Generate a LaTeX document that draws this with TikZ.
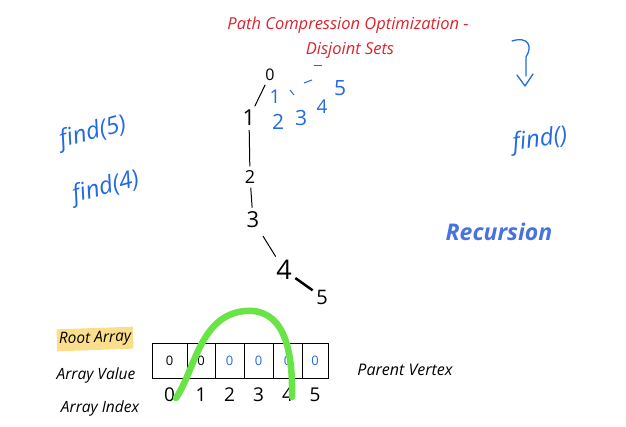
\documentclass[tikz,border=0pt]{standalone}
\usepackage{fontspec}
\setmainfont{Open Sans}
\usetikzlibrary{arrows.meta,positioning,calc}
\definecolor{inkred}{RGB}{220,35,45}
\definecolor{inkblue}{RGB}{35,105,225}
\definecolor{recblue}{RGB}{70,115,225}
\definecolor{hlgreen}{RGB}{105,228,70}
\definecolor{hlyellow}{RGB}{250,222,140}

\begin{document}
\begin{tikzpicture}[x=1pt,y=-1pt,
  title/.style={text=inkred,font=\itshape\fontsize{16.5}{19}\selectfont,inner sep=1pt},
  tag/.style={font=\itshape\fontsize{15.5}{17}\selectfont,inner sep=2pt},
  note/.style={text=inkblue,font=\itshape\fontsize{24}{26}\selectfont,inner sep=1pt},
  digit/.style={font=\fontsize{#1}{#1}\selectfont,inner sep=1pt},
  bdigit/.style={digit=#1,text=inkblue},
  treeline/.style={line width=1pt,shorten >=3pt,shorten <=3pt},
  cell/.style={draw,line width=0.8pt,minimum height=35pt,inner sep=0pt,font=\fontsize{13}{13}\selectfont}]
\useasboundingbox (0,0) rectangle (626,427);

% title
\node[title] (t1) at (348,25) {Path Compression Optimization -};
\node[title] (t2) at (350,50) {Disjoint Sets};

% the tree before compression
\node[digit=16] (v0) at (270,75) {0};
\node[digit=22] (v1) at (249,118) {1};
\node[digit=18] (v2) at (250,177) {2};
\node[digit=22] (v3) at (253,220) {3};
\node[digit=27] (v4) at (284,270) {4};
\node[digit=20] (v5) at (322,297) {5};
\draw[treeline] (v0) -- (v1);
\draw[treeline] (v1) -- (v2);
\draw[treeline] (v2) -- (v3);
\draw[treeline,shorten <=8pt] (v3) -- (v4);
\draw[treeline,line width=2.5pt] (v4) -- (v5);

% after compression, all point at 0
\node[bdigit=19] (b1) at (275,97) {1};
\node[bdigit=21] (b2) at (278,122) {2};
\node[bdigit=21] (b3) at (301,118) {3};
\node[bdigit=19] (b4) at (322,107) {4};
\node[bdigit=21] (b5) at (340,88) {5};
\draw[inkblue,line width=1pt] (290,90) -- (294,95);
\draw[inkblue,line width=1pt] (304,83) -- (312,80);
\draw[inkblue,line width=1pt] (314,66) -- (322,66);

% calls
\node[note,rotate=15] (f5) at (93,133) {find(5)};
\node[note,rotate=15] (f4) at (106,188) {find(4)};
\node[note,rotate=8] (fr) at (540,140) {find()};
\draw[inkblue,line width=1.3pt,line cap=round] (512,41) .. controls (528,36) and (533,46) .. (526,57) -- (526,76);
\draw[inkblue,line width=1.3pt,line cap=round,line join=round] (517,75) -- (525,86) -- (533,74);
\node[text=recblue,font=\bfseries\itshape\fontsize{23}{25}\selectfont] (rec) at (499,232) {Recursion};

% the array
\node[tag,fill=hlyellow,rotate=2,minimum width=76pt,minimum height=22pt] (root) at (95,339) {Root Array};
\node[tag] (aval) at (96,375) {Array Value};
\node[tag] (aidx) at (100,408) {Array Index};
\node[tag,font=\itshape\fontsize{16}{18}\selectfont] (par) at (405,370) {Parent Vertex};
\foreach \i/\x/\w/\c in {0/169.5/35/black,1/201/28/black,2/229.5/29/inkblue,3/258.5/29/inkblue,4/287.5/29/inkblue,5/315/26/inkblue}{
  \node[cell,minimum width=\w pt,text=\c] (c\i) at (\x,360.5) {0};
  \node[digit=19] (i\i) at (\x,395) {\i};
}

% the path that gets shortened
\coordinate (gs) at (176,398);
\coordinate (gp) at (245,311);
\coordinate (ge) at (292,397);
\draw[hlgreen,line width=6.5pt,line cap=round] (gs) .. controls (195,370) and (200,315) .. (gp) .. controls (282,308) and (293,345) .. (ge);
\end{tikzpicture}
\end{document}
